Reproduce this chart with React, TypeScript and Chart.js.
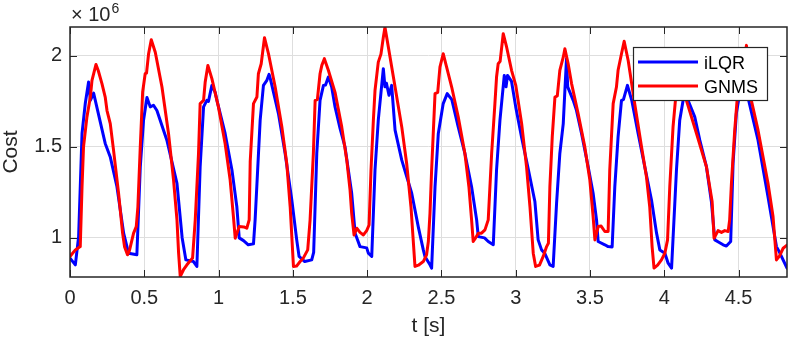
import React, { useEffect, useRef } from 'react';
import { Chart, registerables } from 'chart.js';

Chart.register(...registerables);

// ---- Data (cost in units of 10^6) ----
const seriesNames = ['iLQR', 'GNMS'];
const seriesColors = ['#0000ff', '#ff0000'];

const iLQRTime = [
  0.000, 0.036, 0.058, 0.081, 0.103, 0.125, 0.137, 0.159, 0.237, 0.271, 0.316, 0.361, 0.394, 0.450, 0.473, 0.495,
  0.518, 0.540, 0.562, 0.585, 0.652, 0.720, 0.755, 0.780, 0.831, 0.854, 0.876, 0.899, 0.921, 0.932, 0.955, 0.977,
  0.989, 1.044, 1.090, 1.123, 1.139, 1.168, 1.200, 1.235, 1.246, 1.280, 1.302, 1.325, 1.340, 1.350, 1.403, 1.448,
  1.493, 1.526, 1.542, 1.580, 1.627, 1.640, 1.661, 1.683, 1.706, 1.720, 1.739, 1.761, 1.784, 1.818, 1.851, 1.896,
  1.919, 1.952, 1.997, 2.008, 2.031, 2.053, 2.075, 2.109, 2.120, 2.130, 2.147, 2.165, 2.188, 2.233, 2.300, 2.344,
  2.378, 2.389, 2.423, 2.434, 2.457, 2.479, 2.512, 2.539, 2.570, 2.613, 2.658, 2.703, 2.737, 2.748, 2.790, 2.815,
  2.849, 2.871, 2.894, 2.923, 2.935, 2.945, 2.972, 3.000, 3.040, 3.084, 3.129, 3.151, 3.174, 3.195, 3.230, 3.252,
  3.275, 3.297, 3.320, 3.331, 3.342, 3.350, 3.387, 3.409, 3.443, 3.488, 3.521, 3.544, 3.555, 3.600, 3.622, 3.649,
  3.667, 3.689, 3.712, 3.725, 3.752, 3.781, 3.824, 3.869, 3.914, 3.948, 3.970, 4.004, 4.026, 4.049, 4.082, 4.104,
  4.140, 4.160, 4.205, 4.239, 4.284, 4.317, 4.340, 4.370, 4.396, 4.418, 4.447, 4.463, 4.485, 4.500, 4.530, 4.568,
  4.631, 4.698, 4.755, 4.770, 4.826,
];
const iLQRCost = [
  0.889, 0.852, 1.007, 1.574, 1.740, 1.857, 1.756, 1.796, 1.519, 1.445, 1.281, 1.026, 0.916, 0.907, 1.390, 1.647,
  1.771, 1.720, 1.729, 1.700, 1.537, 1.300, 1.000, 0.879, 0.870, 0.843, 1.390, 1.720, 1.756, 1.750, 1.838, 1.800,
  1.756, 1.574, 1.373, 1.171, 1.000, 0.985, 0.962, 0.967, 1.099, 1.647, 1.838, 1.866, 1.899, 1.870, 1.683, 1.464,
  1.208, 0.989, 0.898, 0.870, 0.879, 0.920, 1.464, 1.756, 1.838, 1.840, 1.884, 1.830, 1.720, 1.600, 1.500, 1.245,
  1.026, 0.952, 0.945, 0.916, 0.898, 1.373, 1.647, 1.930, 1.830, 1.850, 1.784, 1.838, 1.592, 1.427, 1.245, 1.062,
  0.934, 0.898, 0.852, 0.834, 1.281, 1.574, 1.738, 1.793, 1.760, 1.610, 1.464, 1.281, 1.099, 1.007, 1.000, 0.980,
  0.962, 1.373, 1.647, 1.893, 1.830, 1.893, 1.860, 1.720, 1.550, 1.380, 1.200, 0.989, 0.934, 0.916, 0.852, 0.843,
  1.190, 1.464, 1.628, 1.811, 1.985, 1.830, 1.756, 1.701, 1.574, 1.390, 1.245, 1.099, 0.980, 0.962, 0.952, 0.950,
  1.281, 1.555, 1.756, 1.760, 1.838, 1.756, 1.574, 1.390, 1.208, 1.026, 0.934, 0.916, 0.861, 0.834, 1.373, 1.647,
  1.820, 1.756, 1.665, 1.537, 1.390, 1.200, 0.989, 0.975, 0.962, 0.955, 0.980, 1.409, 1.683, 1.756, 1.850, 1.756,
  1.537, 1.226, 0.952, 0.930, 0.834,
];

const gnmsTime = [
  0.000, 0.036, 0.069, 0.081, 0.091, 0.114, 0.137, 0.148, 0.175, 0.190, 0.215, 0.237, 0.249, 0.271, 0.293, 0.327,
  0.354, 0.367, 0.387, 0.400, 0.428, 0.446, 0.457, 0.473, 0.489, 0.506, 0.515, 0.529, 0.547, 0.574, 0.619, 0.663,
  0.697, 0.720, 0.731, 0.742, 0.764, 0.787, 0.805, 0.825, 0.843, 0.865, 0.876, 0.899, 0.910, 0.928, 0.955, 0.999,
  1.044, 1.078, 1.100, 1.112, 1.139, 1.170, 1.190, 1.206, 1.213, 1.235, 1.258, 1.268, 1.287, 1.309, 1.336, 1.381,
  1.426, 1.459, 1.482, 1.504, 1.525, 1.549, 1.571, 1.600, 1.616, 1.638, 1.650, 1.665, 1.683, 1.695, 1.712, 1.739,
  1.784, 1.829, 1.863, 1.885, 1.896, 1.912, 1.930, 1.952, 1.975, 1.997, 2.013, 2.026, 2.042, 2.053, 2.075, 2.093,
  2.109, 2.120, 2.143, 2.188, 2.233, 2.266, 2.295, 2.322, 2.345, 2.378, 2.400, 2.412, 2.423, 2.434, 2.457, 2.475,
  2.490, 2.512, 2.535, 2.569, 2.613, 2.658, 2.685, 2.703, 2.714, 2.730, 2.748, 2.770, 2.793, 2.815, 2.838, 2.860,
  2.871, 2.882, 2.895, 2.916, 2.939, 2.972, 3.000, 3.040, 3.073, 3.096, 3.118, 3.134, 3.160, 3.185, 3.208, 3.220,
  3.230, 3.246, 3.264, 3.280, 3.297, 3.320, 3.331, 3.353, 3.376, 3.420, 3.465, 3.499, 3.521, 3.533, 3.555, 3.575,
  3.600, 3.622, 3.633, 3.656, 3.678, 3.689, 3.712, 3.730, 3.757, 3.801, 3.847, 3.880, 3.902, 3.918, 3.931, 3.955,
  3.981, 4.004, 4.022, 4.037, 4.059, 4.075, 4.110, 4.149, 4.217, 4.284, 4.322, 4.335, 4.362, 4.385, 4.407, 4.430,
  4.440, 4.452, 4.474, 4.490, 4.553, 4.586, 4.631, 4.698, 4.732, 4.755, 4.775, 4.800, 4.826,
];
const gnmsCost = [
  0.898, 0.934, 0.952, 1.281, 1.500, 1.665, 1.774, 1.866, 1.953, 1.920, 1.848, 1.774, 1.700, 1.628, 1.482, 1.245,
  1.026, 0.952, 0.907, 0.930, 1.026, 1.062, 1.171, 1.500, 1.802, 1.902, 1.905, 2.012, 2.089, 2.020, 1.829, 1.574,
  1.318, 1.099, 0.916, 0.788, 0.825, 0.852, 0.870, 0.889, 1.099, 1.464, 1.738, 1.756, 1.857, 1.948, 1.875, 1.720,
  1.519, 1.318, 1.117, 0.998, 1.062, 1.060, 1.053, 1.099, 1.420, 1.738, 1.774, 1.902, 1.957, 2.100, 2.012, 1.829,
  1.610, 1.409, 1.171, 0.843, 0.845, 0.870, 0.890, 0.934, 1.099, 1.464, 1.756, 1.760, 1.902, 1.948, 1.985, 1.921,
  1.800, 1.610, 1.427, 1.263, 1.135, 1.016, 1.053, 1.030, 1.016, 1.040, 1.071, 1.373, 1.647, 1.811, 1.966, 2.010,
  2.103, 2.158, 2.048, 1.829, 1.610, 1.409, 1.171, 0.843, 0.850, 0.870, 0.907, 0.980, 1.135, 1.373, 1.793, 1.800,
  1.939, 2.012, 1.939, 1.829, 1.665, 1.464, 1.281, 1.099, 0.980, 1.000, 1.026, 1.026, 1.044, 1.099, 1.464, 1.738,
  1.884, 1.957, 1.970, 2.122, 2.048, 1.921, 1.840, 1.628, 1.390, 1.171, 0.916, 0.843, 0.850, 0.898, 0.952, 0.970,
  1.281, 1.555, 1.774, 1.780, 1.921, 1.993, 2.039, 1.957, 1.848, 1.683, 1.500, 1.318, 1.117, 0.989, 1.062, 1.065,
  1.035, 1.035, 1.373, 1.738, 1.829, 1.921, 2.012, 2.081, 1.975, 1.738, 1.500, 1.336, 1.171, 0.952, 0.834, 0.850,
  0.879, 0.916, 0.989, 1.281, 1.610, 1.756, 2.000, 1.756, 1.574, 1.390, 1.200, 0.998, 1.040, 1.030, 1.040, 1.035,
  1.099, 1.300, 1.590, 1.756, 2.058, 1.756, 1.592, 1.300, 1.117, 0.879, 0.900, 0.943, 0.960,
];

const xRange = [0, 4.826];
const yRange = [0.785, 2.159];
const tickStep = 0.5;
const xLabel = 't [s]';
const yLabel = 'Cost';
const yExponent = '6';

const FONT = '"Liberation Sans", Arial, Helvetica, sans-serif';
const INK = '#262626';

const fmtTick = (v: any) => String(Math.round(Number(v) * 1000) / 1000);

const matlabPlugin = {
  id: 'matlabFrame',
  afterDatasetsDraw(chart: any) {
    const { ctx, chartArea: a, scales } = chart;
    const xs = scales.x;
    const ys = scales.y;
    ctx.save();
    // inward ticks on all four sides
    const tl = 7;
    ctx.strokeStyle = INK;
    ctx.lineWidth = 1;
    ctx.beginPath();
    xs.ticks.forEach((t: any) => {
      const px = Math.round(xs.getPixelForValue(t.value)) + 0.5;
      ctx.moveTo(px, a.bottom);
      ctx.lineTo(px, a.bottom - tl);
      ctx.moveTo(px, a.top);
      ctx.lineTo(px, a.top + tl);
    });
    ys.ticks.forEach((t: any) => {
      const py = Math.round(ys.getPixelForValue(t.value)) + 0.5;
      ctx.moveTo(a.left, py);
      ctx.lineTo(a.left + tl, py);
      ctx.moveTo(a.right, py);
      ctx.lineTo(a.right - tl, py);
    });
    ctx.stroke();
    // box
    ctx.lineWidth = 1.5;
    ctx.strokeRect(a.left, a.top, a.right - a.left, a.bottom - a.top);

    // exponent label
    ctx.fillStyle = INK;
    ctx.textAlign = 'left';
    ctx.textBaseline = 'alphabetic';
    ctx.font = `20px ${FONT}`;
    const base = '\u00d7 10';
    ctx.fillText(base, a.left + 1, a.top - 6);
    const w = ctx.measureText(base).width;
    ctx.font = `14px ${FONT}`;
    ctx.fillText(yExponent, a.left + 2 + w, a.top - 14);

    // legend
    const bx = a.right - 154;
    const by = a.top + 20;
    const bw = 134;
    const bh = 53;
    ctx.fillStyle = '#ffffff';
    ctx.fillRect(bx, by, bw, bh);
    ctx.lineWidth = 1.2;
    ctx.strokeStyle = INK;
    ctx.strokeRect(bx + 0.5, by + 0.5, bw, bh);
    ctx.font = `18px ${FONT}`;
    chart.data.datasets.forEach((ds: any, i: number) => {
      const ly = by + 15 + i * 24;
      ctx.strokeStyle = ds.borderColor;
      ctx.lineWidth = 3;
      ctx.beginPath();
      ctx.moveTo(bx + 5, ly);
      ctx.lineTo(bx + 65, ly);
      ctx.stroke();
      ctx.fillStyle = '#000000';
      ctx.fillText(ds.label, bx + 71, ly + 6.5);
    });
    ctx.restore();
  },
};

export default function App() {
  const ref = useRef<HTMLCanvasElement>(null);
  useEffect(() => {
    const times = [iLQRTime, gnmsTime];
    const costs = [iLQRCost, gnmsCost];
    const chart = new Chart(ref.current as HTMLCanvasElement, {
      type: 'line',
      data: {
        datasets: seriesNames.map((name, i) => ({
          label: name,
          data: times[i].map((t, k) => ({ x: t, y: costs[i][k] })),
          borderColor: seriesColors[i],
          backgroundColor: seriesColors[i],
          borderWidth: 3,
          borderJoinStyle: 'round',
          borderCapStyle: 'round',
          pointRadius: 0,
          tension: 0,
          fill: false,
          order: 2 - i,
          clip: 0,
        })),
      },
      options: {
        responsive: false,
        animation: false,
        devicePixelRatio: 1,
        layout: { padding: { top: 27, right: 2, left: 0, bottom: 0 } },
        plugins: { legend: { display: false }, tooltip: { enabled: false } },
        scales: {
          x: {
            type: 'linear',
            min: xRange[0],
            max: xRange[1],
            afterFit: (s: any) => { s.height = 68; },
            border: { display: false },
            grid: { color: '#dedede', lineWidth: 1, drawTicks: false },
            ticks: {
              stepSize: tickStep,
              includeBounds: false,
              autoSkip: false,
              maxRotation: 0,
              padding: 9,
              color: INK,
              font: { family: FONT, size: 20 },
              callback: fmtTick,
            },
            title: {
              display: true,
              text: xLabel,
              color: INK,
              font: { family: FONT, size: 21, lineHeight: 1.2 },
              padding: { top: 0, bottom: 6 },
            },
          },
          y: {
            type: 'linear',
            min: yRange[0],
            max: yRange[1],
            afterFit: (s: any) => { s.width = 70; },
            border: { display: false },
            grid: { color: '#dedede', lineWidth: 1, drawTicks: false },
            ticks: {
              stepSize: tickStep,
              includeBounds: false,
              autoSkip: false,
              padding: 8,
              color: INK,
              font: { family: FONT, size: 20 },
              callback: fmtTick,
            },
            title: {
              display: true,
              text: yLabel,
              color: INK,
              font: { family: FONT, size: 21, lineHeight: 1.05 },
              padding: { top: 0, bottom: 0 },
            },
          },
        },
      } as any,
      plugins: [matlabPlugin],
    });
    return () => chart.destroy();
  }, []);
  return (
    <div style={{ position: 'fixed', left: 0, top: 0, width: 789, height: 345, background: '#ffffff' }}>
      <canvas ref={ref} width={789} height={345} style={{ display: 'block', width: 789, height: 345 }} />
    </div>
  );
}
